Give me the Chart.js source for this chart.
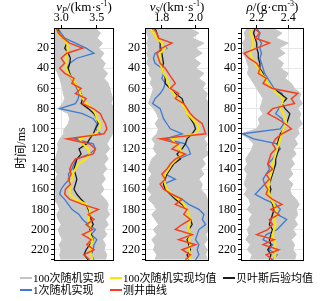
<!DOCTYPE html>
<html>
<head>
<meta charset="utf-8">
<script src="https://cdn.jsdelivr.net/npm/chart.js@4.4.1/dist/chart.umd.min.js"></script>
<style>
  body { margin: 0; background: #fff; }
  #wrap { position: relative; width: 331px; height: 301px; overflow: hidden;
          font-family: "Liberation Serif", "Noto Sans CJK SC", serif; color: #000; }
  canvas { position: absolute; top: 0; }
  .ttl { position: absolute; top: -1px; font-size: 13px; line-height: 15px; text-align: center; white-space: nowrap; }
  .ttl sub { font-size: 8px; line-height: 0; vertical-align: -2px; }
  .ttl sup { font-size: 8px; line-height: 0; vertical-align: 5px; }
  #ylab { position: absolute; left: -10px; top: 139px; width: 60px; text-align: center;
          font-size: 12px; transform: rotate(-90deg); white-space: nowrap; }
  .leg { position: absolute; font-size: 11px; line-height: 12px; white-space: nowrap; }
  .sw { position: absolute; width: 12px; height: 2px; }
</style>
</head>
<body>
<div id="wrap">
  <canvas id="c1" width="116" height="270" style="left:0px"></canvas>
  <canvas id="c2" width="120" height="270" style="left:91px"></canvas>
  <canvas id="c3" width="119" height="270" style="left:187px"></canvas>
  <div class="ttl" style="left:54px;width:60px"><i>v</i><sub><i>P</i></sub>/(km·s<sup>-1</sup>)</div>
  <div class="ttl" style="left:145px;width:64px"><i>v</i><sub><i>S</i></sub>/(km·s<sup>-1</sup>)</div>
  <div class="ttl" style="left:241px;width:63px"><i>ρ</i>/(g·cm<sup>-3</sup>)</div>
  <div id="ylab">时间/ms</div>

  <div class="sw" style="left:20px;top:277px;background:#c4c4c4"></div>
  <div class="leg" style="left:33px;top:272px">100次随机实现</div>
  <div class="sw" style="left:110px;top:277px;background:#ffe600"></div>
  <div class="leg" style="left:123px;top:272px">100次随机实现均值</div>
  <div class="sw" style="left:223px;top:277px;background:#1a1a1a"></div>
  <div class="leg" style="left:236px;top:272px">贝叶斯后验均值</div>
  <div class="sw" style="left:20px;top:289px;background:#3c7bd2"></div>
  <div class="leg" style="left:33px;top:284px">1次随机实现</div>
  <div class="sw" style="left:110px;top:289px;background:#f5401e"></div>
  <div class="leg" style="left:123px;top:284px">测井曲线</div>
</div>
<script>
// two-way time (ms), one sample every 5 ms
const time = [0,5,10,15,20,25,30,35,40,45,50,55,60,65,70,75,80,85,90,95,100,105,110,115,120,125,130,135,140,145,150,155,160,165,170,175,180,185,190,195,200,205,210,215,220,225,230];
const timeLabels = [20,40,60,80,100,120,140,160,180,200,220];

// vp (km/s)
const vpLow  = [2.90,2.90,2.90,2.91,2.90,2.92,2.90,2.91,2.92,2.95,2.98,3.00,3.02,3.03,3.05,3.02,2.96,3.10,3.12,3.10,3.05,3.04,2.98,2.95,2.96,2.94,2.92,2.93,2.91,2.95,2.92,2.90,2.91,2.93,2.90,2.95,2.98,2.94,2.96,3.00,2.96,2.98,3.02,2.97,3.00,2.98,3.00];
const vpHigh = [3.48,3.55,3.50,3.58,3.52,3.60,3.55,3.62,3.58,3.65,3.60,3.66,3.68,3.70,3.72,3.70,3.74,3.72,3.74,3.73,3.74,3.72,3.68,3.64,3.68,3.62,3.66,3.60,3.64,3.58,3.62,3.56,3.60,3.55,3.62,3.66,3.64,3.68,3.62,3.66,3.60,3.64,3.58,3.62,3.60,3.64,3.62];
const vpMean = [2.93,2.96,3.02,3.08,3.10,3.08,3.07,3.06,3.07,3.10,3.15,3.20,3.24,3.27,3.30,3.36,3.44,3.48,3.50,3.55,3.54,3.48,3.26,3.30,3.38,3.40,3.35,3.24,3.20,3.16,3.15,3.13,3.12,3.12,3.20,3.36,3.40,3.40,3.38,3.40,3.42,3.40,3.44,3.42,3.40,3.42,3.44];
const vpPost = [2.95,2.97,3.02,3.08,3.05,3.10,3.13,3.12,3.10,3.12,3.15,3.20,3.23,3.28,3.30,3.28,3.38,3.46,3.50,3.52,3.48,3.45,3.40,3.36,3.25,3.28,3.22,3.20,3.18,3.20,3.22,3.20,3.18,3.22,3.28,3.35,3.38,3.40,3.42,3.45,3.40,3.42,3.45,3.40,3.35,3.32,3.38];
const vpOne  = [2.95,3.00,3.05,3.20,3.35,3.46,3.22,3.12,3.08,3.10,3.14,3.18,3.22,3.25,3.24,3.20,2.98,3.30,3.45,3.50,3.48,3.55,3.18,3.45,3.48,3.40,3.22,3.18,3.15,3.10,3.12,3.05,3.00,2.98,3.05,3.10,3.15,3.25,3.30,3.38,3.48,3.42,3.50,3.46,3.45,3.42,3.46];
const vpLog  = [2.93,2.96,3.03,3.12,3.30,3.08,3.00,3.05,2.98,3.05,3.18,3.15,3.28,3.20,3.35,3.30,3.45,3.55,3.58,3.62,3.64,3.60,3.08,3.40,3.48,3.45,3.20,3.15,3.12,3.14,3.10,3.13,3.06,3.05,3.12,3.30,3.52,3.38,3.46,3.35,3.44,3.30,3.42,3.36,3.46,3.32,3.40];

// vs (km/s)
const vsLow  = [1.71,1.71,1.72,1.71,1.72,1.71,1.72,1.71,1.73,1.72,1.74,1.73,1.75,1.74,1.73,1.72,1.75,1.77,1.78,1.76,1.78,1.77,1.74,1.76,1.75,1.77,1.74,1.73,1.72,1.74,1.72,1.73,1.71,1.74,1.72,1.75,1.77,1.74,1.76,1.78,1.75,1.77,1.74,1.76,1.75,1.77,1.76];
const vsHigh = [1.96,2.02,1.98,2.05,2.00,2.04,1.99,2.03,2.00,2.05,2.02,2.06,2.04,2.07,2.06,2.08,2.07,2.08,2.08,2.08,2.08,2.08,2.05,2.07,2.06,2.08,2.04,2.06,2.03,2.05,2.02,2.04,2.03,2.06,2.07,2.08,2.07,2.08,2.08,2.07,2.08,2.06,2.07,2.05,2.07,2.06,2.07];
const vsMean = [1.73,1.75,1.77,1.80,1.82,1.79,1.785,1.79,1.80,1.81,1.83,1.84,1.85,1.87,1.89,1.92,1.94,1.95,1.98,2.01,2.02,2.00,1.86,1.88,1.91,1.92,1.89,1.86,1.84,1.82,1.81,1.82,1.83,1.86,1.90,1.93,1.95,1.96,1.97,1.96,1.96,1.97,1.96,1.97,1.96,1.97,1.96];
const vsPost = [1.76,1.77,1.78,1.79,1.79,1.80,1.805,1.81,1.80,1.81,1.82,1.82,1.85,1.88,1.92,1.93,1.94,1.95,1.97,1.99,2.00,1.98,1.95,1.94,1.92,1.89,1.91,1.87,1.85,1.83,1.82,1.81,1.82,1.85,1.88,1.92,1.95,1.96,1.97,1.98,1.96,1.97,1.95,1.96,1.97,1.95,1.96];
const vsOne  = [1.74,1.75,1.77,1.80,1.83,1.76,1.75,1.76,1.80,1.81,1.80,1.82,1.81,1.79,1.76,1.745,1.79,1.80,1.81,1.83,1.85,1.92,1.82,1.94,1.96,1.97,1.90,1.86,1.84,1.82,1.88,1.81,1.82,1.86,1.92,1.96,2.02,2.05,2.04,2.06,2.02,2.01,2.00,2.02,2.01,2.02,2.00];
const vsLog  = [1.75,1.77,1.78,1.86,1.80,1.77,1.78,1.79,1.82,1.84,1.86,1.88,1.85,1.90,1.88,1.93,1.95,1.97,2.00,2.04,2.05,2.06,1.79,1.90,1.86,1.94,1.88,1.85,1.83,1.80,1.82,1.79,1.81,1.86,1.92,1.88,1.95,1.93,1.97,1.92,1.88,1.98,1.90,2.00,1.92,1.97,1.94];

// density (g/cm3)
const rhoLow  = [2.14,2.12,2.13,2.11,2.12,2.11,2.13,2.14,2.15,2.14,2.16,2.18,2.20,2.22,2.24,2.23,2.22,2.24,2.21,2.22,2.20,2.10,2.15,2.18,2.17,2.15,2.13,2.14,2.12,2.14,2.13,2.12,2.14,2.12,2.15,2.16,2.14,2.17,2.15,2.16,2.14,2.15,2.13,2.16,2.14,2.17,2.16];
const rhoHigh = [2.30,2.36,2.32,2.40,2.34,2.38,2.33,2.37,2.35,2.40,2.38,2.42,2.44,2.48,2.47,2.49,2.46,2.48,2.47,2.49,2.46,2.47,2.44,2.46,2.43,2.45,2.42,2.44,2.41,2.43,2.40,2.43,2.41,2.42,2.45,2.47,2.45,2.46,2.44,2.46,2.43,2.45,2.42,2.44,2.43,2.45,2.44];
const rhoMean = [2.17,2.16,2.17,2.18,2.17,2.16,2.17,2.19,2.21,2.23,2.25,2.27,2.30,2.33,2.37,2.36,2.35,2.37,2.38,2.39,2.37,2.36,2.35,2.34,2.33,2.32,2.31,2.30,2.30,2.29,2.28,2.28,2.27,2.28,2.29,2.31,2.32,2.33,2.31,2.32,2.31,2.30,2.31,2.32,2.31,2.32,2.31];
const rhoPost = [2.19,2.18,2.19,2.20,2.20,2.21,2.21,2.22,2.22,2.24,2.25,2.27,2.30,2.35,2.39,2.36,2.38,2.41,2.40,2.39,2.37,2.35,2.34,2.33,2.34,2.33,2.32,2.32,2.31,2.30,2.29,2.28,2.29,2.28,2.29,2.30,2.31,2.30,2.29,2.28,2.30,2.29,2.28,2.29,2.27,2.29,2.28];
const rhoOne  = [2.20,2.22,2.21,2.23,2.22,2.23,2.22,2.23,2.24,2.25,2.27,2.29,2.31,2.36,2.37,2.36,2.34,2.32,2.36,2.37,2.35,2.11,2.18,2.33,2.35,2.32,2.30,2.27,2.28,2.26,2.24,2.25,2.22,2.19,2.25,2.32,2.35,2.33,2.39,2.36,2.33,2.26,2.24,2.30,2.28,2.33,2.30];
const rhoLog  = [2.18,2.22,2.19,2.28,2.20,2.12,2.15,2.20,2.22,2.21,2.26,2.24,2.30,2.46,2.42,2.44,2.30,2.27,2.33,2.38,2.42,2.36,2.32,2.30,2.32,2.29,2.28,2.27,2.30,2.26,2.28,2.25,2.27,2.26,2.30,2.36,2.29,2.34,2.28,2.30,2.27,2.20,2.31,2.24,2.34,2.26,2.30];

Chart.defaults.font.family = '"Liberation Serif", "Times New Roman", serif';
Chart.defaults.font.size = 12;
Chart.defaults.color = '#000';

const pts = arr => arr.map((v, i) => ({ x: v, y: time[i] }));
const minorTicks = [];
for (let t = 5; t <= 230; t += 5) minorTicks.push(t);

// box round the plot area
const frame = {
  id: 'frame',
  afterDraw(chart) {
    const { ctx, chartArea: a } = chart;
    ctx.save();
    ctx.strokeStyle = '#000';
    ctx.lineWidth = 1;
    ctx.strokeRect(Math.round(a.left) + 0.5, Math.round(a.top) + 0.5, Math.round(a.width) - 1, Math.round(a.height) - 1);
    ctx.restore();
  }
};

const line = (data, color, w) => ({
  data: pts(data), borderColor: color, borderWidth: w, pointRadius: 0, fill: false
});

function panel(id, xMin, xMax, xTicks, low, high, mean, post, one, log) {
  new Chart(document.getElementById(id), {
    type: 'line',
    data: {
      datasets: [
        line(log, '#f5401e', 1.5),
        line(mean, '#ffe600', 2),
        line(post, '#1a1a1a', 1.3),
        line(one, '#3c7bd2', 1.3),
        { data: pts(high), borderColor: '#c8c8c8', borderWidth: 1, pointRadius: 0,
          backgroundColor: '#c8c8c8', fill: '+1' },
        { data: pts(low), borderColor: '#c8c8c8', borderWidth: 1, pointRadius: 0, fill: false }
      ]
    },
    options: {
      responsive: false,
      animation: false,
      indexAxis: 'y',
      layout: { padding: { top: 0, right: 2, bottom: 3, left: 0 } },
      plugins: { legend: { display: false }, tooltip: { enabled: false } },
      elements: { line: { tension: 0 } },
      scales: {
        x: {
          type: 'linear', position: 'top', min: xMin, max: xMax,
          afterBuildTicks: s => { s.ticks = xTicks.map(v => ({ value: v })); },
          afterFit: s => { s.height = 28; },
          ticks: { autoSkip: false, maxRotation: 0, padding: 0, callback: v => v.toFixed(1) },
          grid: { color: '#e6e6e6', tickColor: '#000', tickLength: 3 },
          border: { display: false }
        },
        y: {
          type: 'linear', reverse: true, min: 0, max: 231,
          afterBuildTicks: s => { s.ticks = minorTicks.map(v => ({ value: v })); },
          afterFit: s => { s.width = 54; },
          ticks: { autoSkip: false, padding: 2, callback: v => timeLabels.includes(v) ? v : '' },
          grid: {
            color: c => timeLabels.includes(c.tick && c.tick.value) ? '#e6e6e6' : 'rgba(0,0,0,0)',
            tickColor: '#000', tickLength: 3
          },
          border: { display: false }
        }
      }
    },
    plugins: [frame]
  });
}

panel('c1', 2.9, 3.74, [3.0, 3.5], vpLow, vpHigh, vpMean, vpPost, vpOne, vpLog);
panel('c2', 1.7, 2.08, [1.8, 2.0], vsLow, vsHigh, vsMean, vsPost, vsOne, vsLog);
panel('c3', 2.1, 2.5, [2.2, 2.4], rhoLow, rhoHigh, rhoMean, rhoPost, rhoOne, rhoLog);
</script>
</body>
</html>
